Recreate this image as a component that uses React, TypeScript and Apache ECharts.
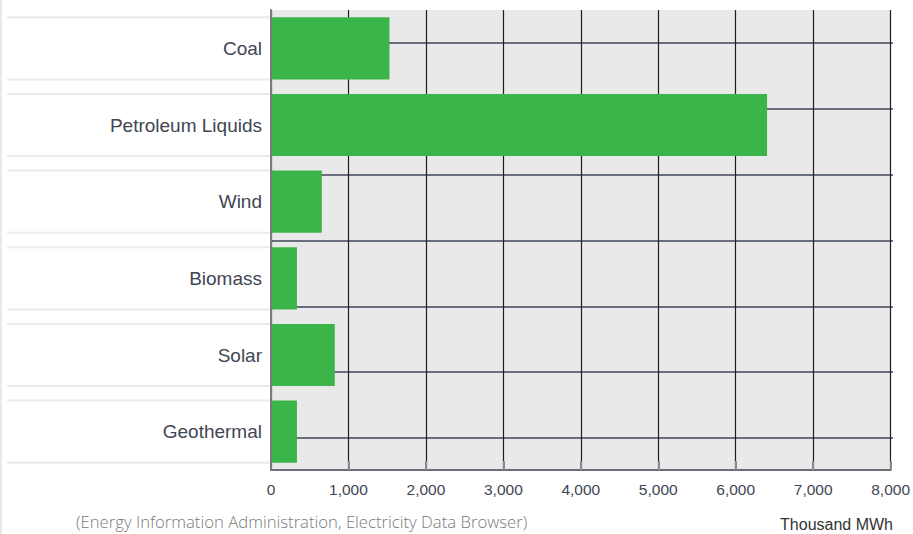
import React, { useEffect, useRef } from "react";
import * as echarts from "echarts";

const categories = ["Coal", "Petroleum Liquids", "Wind", "Biomass", "Solar", "Geothermal"];
const values = [1530, 6405, 656, 335, 823, 335];
const xTicks = [0, 1000, 2000, 3000, 4000, 5000, 6000, 7000, 8000];
const sourceText = "(Energy Information Administration, Electricity Data Browser)";
const unitText = "Thousand MWh";

const GAP = 0.19;
const FONT = "Liberation Sans, Arial, sans-serif";

export default function App() {
  const ref = useRef<HTMLDivElement>(null);
  useEffect(() => {
    if (!ref.current) return;
    const chart = echarts.init(ref.current, undefined, { renderer: "svg" });
    const labelColor = "#404654";
    chart.setOption({
      animation: false,
      backgroundColor: "#ffffff",
      grid: [
        { left: 271, right: 20, top: 10, bottom: 64, show: true, backgroundColor: "#e9e9e9", borderWidth: 0 },
        { left: 7, width: 264, top: 10, bottom: 64 },
        { left: 271, right: 20, top: 43, bottom: 96 },
      ],
      xAxis: [
        {
          type: "value",
          gridIndex: 0,
          min: xTicks[0],
          max: xTicks[xTicks.length - 1],
          interval: 1000,
          axisLine: { show: true, onZero: false, lineStyle: { color: "#6b6f78", width: 2 } },
          axisTick: { show: true, inside: true, length: 9, lineStyle: { color: "#8a8a8a", width: 2 } },
          axisLabel: {
            margin: 11,
            color: labelColor,
            fontSize: 15.5,
            fontFamily: FONT,
            formatter: (v: number) => v.toLocaleString("en-US"),
          },
          splitLine: { show: true, lineStyle: { color: "#1e1e1e", width: 1.2 } },
          z: 1,
        },
        { type: "value", gridIndex: 1, min: 0, max: 1, show: false },
        { type: "value", gridIndex: 2, min: 0, max: 1, show: false },
      ],
      yAxis: [
        {
          type: "category",
          gridIndex: 0,
          data: categories,
          inverse: true,
          axisLine: { show: true, lineStyle: { color: "#7a7a7a", width: 2 } },
          axisTick: { show: false },
          axisLabel: {
            margin: 9,
            color: labelColor,
            fontSize: 19,
            fontFamily: FONT,
          },
          splitLine: { show: false },
          z: 3,
        },
        { type: "category", gridIndex: 1, data: categories, inverse: true, show: false },
        {
          type: "value",
          gridIndex: 2,
          min: 0,
          max: 6,
          interval: 1,
          axisLine: { show: false },
          axisTick: { show: false },
          axisLabel: { show: false },
          splitLine: { show: true, lineStyle: { color: "#3c4456", width: 1.5 } },
          z: 1,
        },
      ],
      series: [
        {
          type: "bar",
          xAxisIndex: 0,
          yAxisIndex: 0,
          data: values,
          barCategoryGap: GAP * 100 + "%",
          itemStyle: { color: "#3bb54a" },
          z: 2,
        },
        {
          type: "custom",
          xAxisIndex: 1,
          yAxisIndex: 1,
          data: categories.map((_, i) => [0, i]),
          encode: { x: 0, y: 1 },
          renderItem: (params: any, api: any) => {
            const idx = api.value(1);
            const a = api.coord([0, idx]);
            const b = api.coord([1, idx]);
            const band = api.size([0, 1])[1];
            const h = band * (1 - GAP);
            const top = a[1] - h / 2;
            const bot = a[1] + h / 2;
            const style = { stroke: "#ebebeb", lineWidth: 2 };
            return {
              type: "group",
              children: [
                { type: "line", shape: { x1: a[0], y1: top, x2: b[0], y2: top }, style },
                { type: "line", shape: { x1: a[0], y1: bot, x2: b[0], y2: bot }, style },
              ],
            };
          },
        },
      ],
      graphic: [
        { type: "line", shape: { x1: 1, y1: 0, x2: 1, y2: 534 }, style: { stroke: "#e8e8e8", lineWidth: 2 } },
        {
          type: "text",
          left: 76,
          top: 513,
          style: {
            text: sourceText,
            fill: "#7a7a7a",
            fontSize: 16.7,
            fontFamily: "Open Sans, sans-serif",
            fontWeight: 300,
          },
        },
        {
          type: "text",
          right: 20,
          top: 516,
          style: {
            text: unitText,
            fill: "#333333",
            fontSize: 16,
            fontFamily: FONT,
          },
        },
      ],
    });
    return () => chart.dispose();
  }, []);
  return (
    <div
      ref={ref}
      style={{ position: "fixed", left: 0, top: 0, width: 913, height: 534 }}
    />
  );
}
